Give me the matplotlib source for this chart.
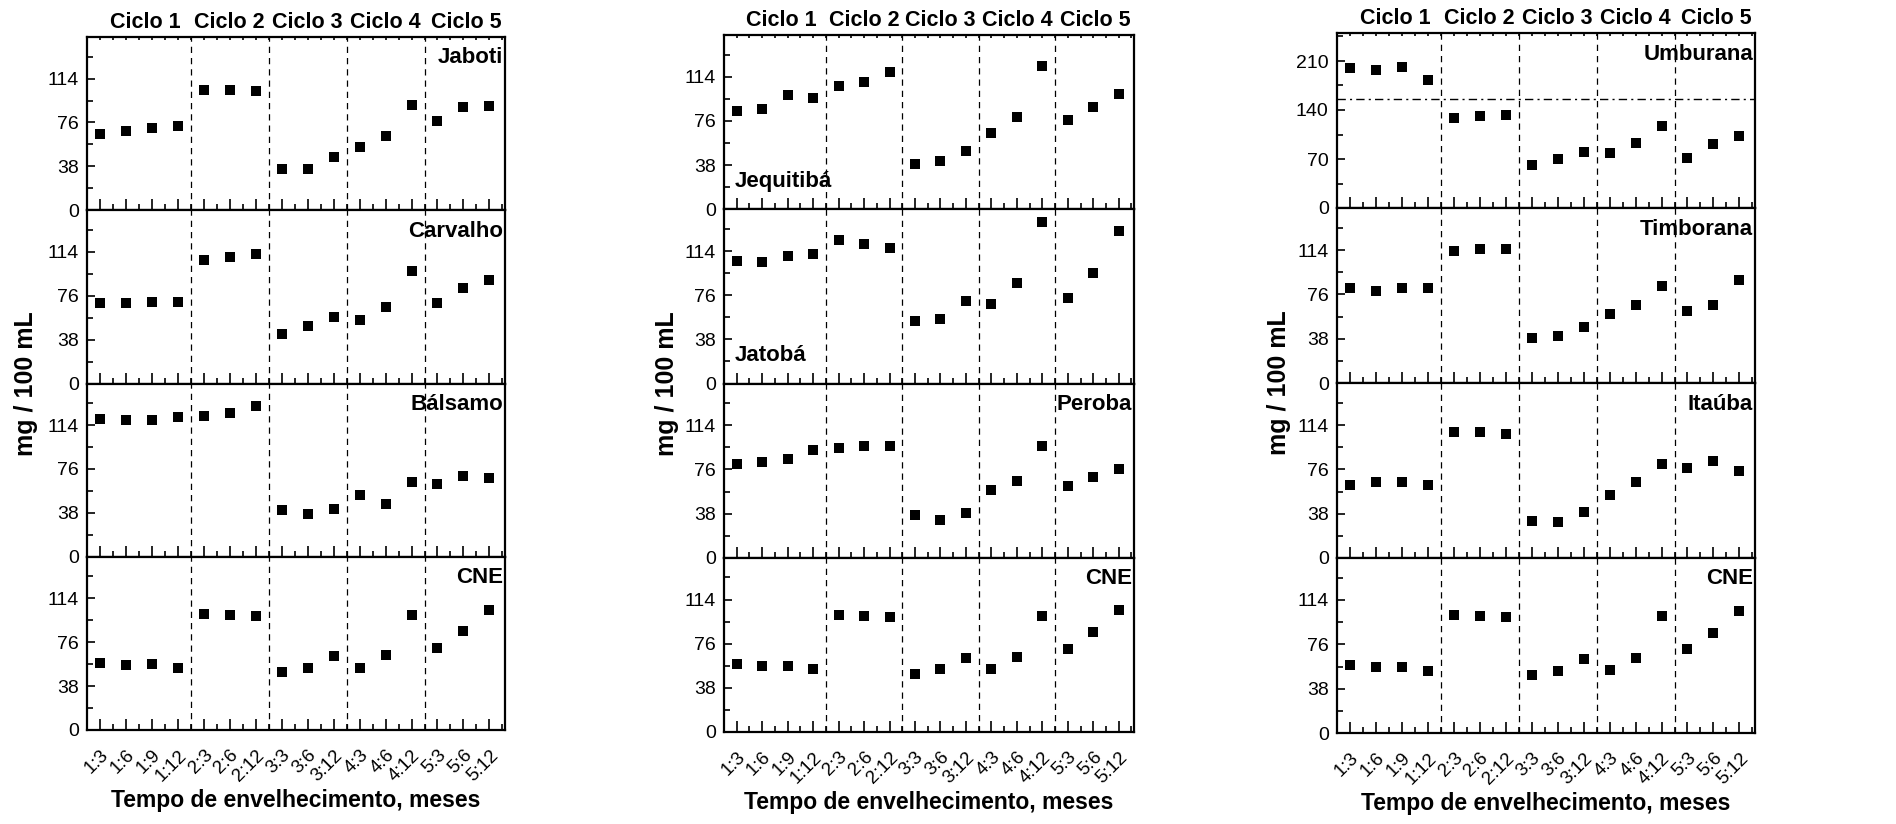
import matplotlib.pyplot as plt
from matplotlib.ticker import FixedLocator, NullFormatter

plt.rcParams['font.family'] = ['Liberation Sans', 'DejaVu Sans']

# categories (ciclo:meses)
tempos = ["1:3", "1:6", "1:9", "1:12", "2:3", "2:6", "2:12", "3:3", "3:6", "3:12",
          "4:3", "4:6", "4:12", "5:3", "5:6", "5:12"]
ciclos = ["Ciclo 1", "Ciclo 2", "Ciclo 3", "Ciclo 4", "Ciclo 5"]

# mg / 100 mL
jaboti = [66.1, 68.8, 70.8, 72.8, 103.9, 103.9, 103.6, 35.7, 35.7, 46.1,
          54.8, 64.7, 91.4, 77.5, 89.4, 89.9]
carvalho = [69.6, 69.9, 70.2, 70.8, 106.5, 109.4, 111.7, 43.2, 49.6, 57.4,
            55.4, 66.4, 97.2, 69.3, 82.4, 89.6]
balsamo = [119.2, 118.6, 118.6, 121.2, 122.1, 124.4, 130.2, 40.5, 36.7, 41.4,
           53.2, 45.4, 64.8, 63.1, 70.0, 68.3]
cne_1 = [58.1, 56.7, 57.3, 53.9, 100.8, 99.7, 98.8, 50.1, 54.1, 63.9,
         54.1, 64.7, 99.7, 71.3, 85.6, 104.0]

jequitiba = [84.5, 86.2, 98.3, 96.0, 106.3, 109.7, 118.3, 39.2, 41.2, 50.4,
             65.3, 79.3, 123.2, 76.5, 87.7, 99.1]
jatoba = [105.1, 104.6, 110.0, 111.1, 123.2, 120.3, 116.6, 53.6, 55.6, 71.3,
          68.2, 86.5, 139.2, 73.3, 95.4, 131.2]
peroba = [80.7, 82.2, 85.4, 92.9, 94.6, 95.8, 95.8, 36.5, 32.1, 38.8,
          58.4, 66.3, 96.6, 61.6, 69.4, 76.1]
cne_2 = [58.3, 56.9, 57.1, 54.0, 101.0, 99.9, 99.3, 49.9, 54.0, 63.5,
         54.5, 64.4, 99.9, 71.6, 86.0, 104.8]

umburana = [199.5, 197.1, 201.4, 182.4, 129.0, 131.9, 133.3, 61.9, 69.5, 80.0,
            79.0, 93.3, 117.1, 71.4, 91.4, 102.4]
timborana = [81.5, 79.2, 81.2, 81.2, 113.1, 115.1, 114.6, 39.0, 39.9, 47.6,
             59.3, 66.7, 83.2, 61.8, 66.7, 88.6]
itauba = [63.0, 65.3, 65.0, 63.0, 108.0, 108.0, 106.0, 31.5, 31.2, 39.5,
          53.9, 65.3, 80.8, 77.3, 83.4, 74.2]
cne_3 = [58.0, 56.3, 56.9, 53.4, 101.1, 99.9, 99.1, 49.7, 53.4, 63.8,
         54.0, 64.0, 99.9, 71.8, 85.3, 104.5]

umburana_limite = 156

colunas = [
    [("Jaboti", jaboti, "tr"), ("Carvalho", carvalho, "tr"),
     ("Bálsamo", balsamo, "tr"), ("CNE", cne_1, "tr")],
    [("Jequitibá", jequitiba, "bl"), ("Jatobá", jatoba, "bl"),
     ("Peroba", peroba, "tr"), ("CNE", cne_2, "tr")],
    [("Umburana", umburana, "tr"), ("Timborana", timborana, "tr"),
     ("Itaúba", itauba, "tr"), ("CNE", cne_3, "tr")],
]

W, H = 1896, 824
fig = plt.figure(figsize=(W / 100, H / 100), dpi=100)

# pixel boxes for each column: left, right, top, bottom
caixas = [(87, 505, 37, 730), (724, 1134, 35, 732), (1337, 1755, 33, 733)]
ylabel_x = [26, 667, 1279]

x = list(range(len(tempos)))
divisoes = [3.5, 6.5, 9.5, 12.5]
ciclo_x = [1.75, 5, 8, 11, 14.1]

for c, (col, (l, r, t, b)) in enumerate(zip(colunas, caixas)):
    ph = (b - t) / 4
    for i, (nome, vals, pos) in enumerate(col):
        top = t + i * ph
        ax = fig.add_axes([l / W, 1 - (top + ph) / H, (r - l) / W, ph / H])
        ax.plot(x, vals, 's', color='black', ms=7.6, mew=0)
        ax.set_xlim(-0.5, 15.6)
        if nome == "Umburana":
            ax.set_ylim(0, 250)
            ax.yaxis.set_major_locator(FixedLocator([0, 70, 140, 210]))
            ax.yaxis.set_minor_locator(FixedLocator([35, 105, 175, 245]))
            ax.axhline(umburana_limite, color='black', lw=1,
                       ls=(0, (6, 3, 1.5, 3)))
        else:
            ax.set_ylim(0, 150)
            ax.yaxis.set_major_locator(FixedLocator([0, 38, 76, 114]))
            ax.yaxis.set_minor_locator(FixedLocator([19, 57, 95, 133]))
        for d in divisoes:
            ax.axvline(d, color='black', lw=0.9, ls=(0, (5, 4)))

        ax.xaxis.set_major_locator(FixedLocator(x))
        ax.xaxis.set_minor_locator(FixedLocator([v + 0.5 for v in x]))
        ax.tick_params(axis='x', which='major', direction='in', length=8, width=1.2,
                       top=(i == 0))
        ax.tick_params(axis='x', which='minor', direction='in', length=4, width=1.2,
                       top=(i == 0))
        ax.tick_params(axis='y', which='major', direction='in', length=6, width=1.2,
                       labelsize=14, pad=6)
        ax.tick_params(axis='y', which='minor', direction='in', length=4, width=1.2)
        for s in ax.spines.values():
            s.set_linewidth(1.6)
        if i == 0:
            # the top spine carries only short ticks
            for tk in ax.xaxis.get_major_ticks() + ax.xaxis.get_minor_ticks():
                tk.tick2line.set_markersize(2.5)

        if i == 3:
            ax.set_xticklabels(tempos, rotation=45, ha='right', rotation_mode='anchor',
                               fontsize=13.5)
            ax.tick_params(axis='x', which='major', pad=12)
            ax.set_xlabel("Tempo de envelhecimento, meses", fontsize=16.5,
                          fontweight='bold', labelpad=3)
        else:
            ax.xaxis.set_major_formatter(NullFormatter())

        if i == 0:
            for cx, ct in zip(ciclo_x, ciclos):
                ax.annotate(ct, xy=(cx, 1), xycoords=('data', 'axes fraction'),
                            xytext=(0, 3), textcoords='offset points',
                            ha='center', va='bottom', fontsize=15.5,
                            fontweight='bold')

        if pos == "tr":
            ax.text(0.995, 0.94, nome, transform=ax.transAxes, ha='right', va='top',
                    fontsize=16, fontweight='bold')
        else:
            ax.text(0.025, 0.1, nome, transform=ax.transAxes, ha='left',
                    va='bottom', fontsize=16, fontweight='bold')

    fig.text(ylabel_x[c] / W, 1 - (t + b) / 2 / H, "mg / 100 mL", rotation=90,
             ha='center', va='center', fontsize=18, fontweight='bold')

fig.savefig("out.png", dpi=100)
